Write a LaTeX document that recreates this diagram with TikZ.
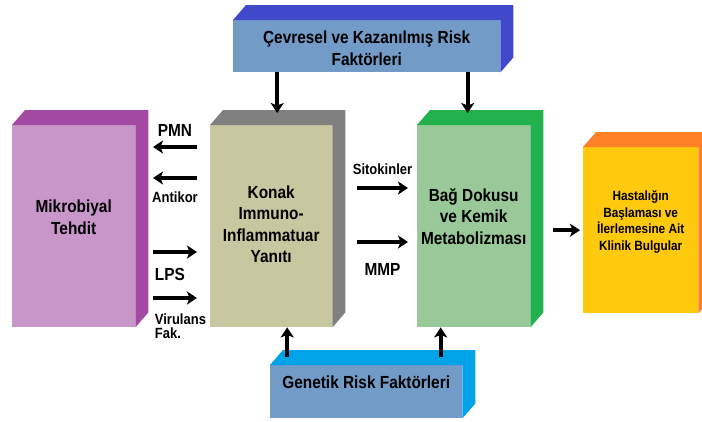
\documentclass[tikz,border=0pt]{standalone}
\usepackage{fontspec}
\setmainfont[FakeStretch=0.88]{Liberation Sans}
\usetikzlibrary{arrows.meta,calc}

\definecolor{cevreOn}{RGB}{115,155,200}
\definecolor{cevreYan}{RGB}{64,72,204}
\definecolor{genOn}{RGB}{115,155,200}
\definecolor{genYan}{RGB}{0,162,232}
\definecolor{mikroOn}{RGB}{200,150,200}
\definecolor{mikroYan}{RGB}{163,73,164}
\definecolor{konakOn}{RGB}{200,200,160}
\definecolor{konakYan}{RGB}{128,128,128}
\definecolor{bagOn}{RGB}{153,200,153}
\definecolor{bagYan}{RGB}{34,177,76}
\definecolor{hastaOn}{RGB}{255,201,14}
\definecolor{hastaYan}{RGB}{255,127,39}

\tikzset{
  onyuz/.style={fill=#1,inner sep=0pt,anchor=north west},
  metin/.style={font=\bfseries\fontsize{17.5}{21.5}\selectfont,align=center,inner sep=0pt},
  etiket/.style={font=\bfseries\fontsize{17.5}{19}\selectfont,inner sep=0pt},
  ketiket/.style={font=\bfseries\fontsize{14.8}{14}\selectfont,inner sep=0pt,align=left},
  oka/.style={-{Stealth[length=10pt,width=13pt,inset=2.5pt]},line width=3.8pt}
}

\begin{document}
\begin{tikzpicture}[x=1pt,y=-1pt]
\useasboundingbox (0,0) rectangle (702,421);
% kutularin on yuzleri
\node[onyuz=cevreOn,minimum width=267,minimum height=52] (cevre) at (233,20) {};
\node[onyuz=mikroOn,minimum width=123,minimum height=202] (mikro) at (12,125) {};
\node[onyuz=konakOn,minimum width=122,minimum height=202] (konak) at (210,125) {};
\node[onyuz=bagOn,minimum width=113,minimum height=202] (bag) at (417,125) {};
\node[onyuz=hastaOn,minimum width=115,minimum height=166] (hasta) at (583,147) {};
\node[onyuz=genOn,minimum width=192,minimum height=53] (genetik) at (270,365) {};
% ust ve yan yuzler
\foreach \n/\c in {cevre/cevreYan,mikro/mikroYan,konak/konakYan,bag/bagYan,hasta/hastaYan,genetik/genYan}
  \fill[\c] (\n.north west) -- ++(13,-15) -- ($(\n.north east)+(13,-15)$)
    -- ($(\n.south east)+(13,-15)$) -- (\n.south east) -- (\n.north east) -- cycle;
% yazilar
\node[metin] (cevreYazi) at ($(cevre.center)+(0,2)$) {Çevresel ve Kazanılmış Risk\\Faktörleri};
\node[metin] (mikroYazi) at ($(mikro.center)+(0,-9)$) {Mikrobiyal\\Tehdit};
\node[metin] (konakYazi) at ($(konak.center)+(0,-2)$) {Konak\\Immuno-\\Inflammatuar\\Yanıtı};
\node[metin] (bagYazi) at ($(bag.center)+(0,-10)$) {Bağ Dokusu\\ve Kemik\\Metabolizması};
\node[metin,font=\bfseries\fontsize{13.4}{16.5}\selectfont] (hastaYazi) at ($(hasta.center)+(0,-8)$)
  {Hastalığın\\Başlaması ve\\İlerlemesine Ait\\Klinik Bulgular};
\node[metin] (genYazi) at ($(genetik.center)+(0,-9)$) {Genetik Risk Faktörleri};
% oklar
\draw[oka] ($(konak.north west)+(-13,22)$) -- ++(-44,0) node[midway,above=8.4pt,etiket] (pmn) {PMN};
\draw[oka] ($(konak.north west)+(-13,53)$) -- ++(-44,0) node[midway,below=12pt,ketiket] (antikor) {Antikor};
\draw[oka] ($(konak.north west)+(-57,127)$) -- ++(44,0)
  node[at start,anchor=north west,yshift=-14.7pt,etiket] (lps) {LPS};
\draw[oka] ($(konak.north west)+(-57,173)$) -- ++(44,0)
  node[at start,anchor=north west,yshift=-13.7pt,ketiket] (virulans) {Virulans\\Fak.};
\draw[oka] ($(bag.north west)+(-60,63)$) -- ++(51,0) node[midway,above=11pt,ketiket] (sitokin) {Sitokinler};
\draw[oka] ($(bag.north west)+(-60,117)$) -- ++(51,0) node[midway,below=19.5pt,etiket] (mmp) {MMP};
\draw[oka] ($(hasta.west)+(-30,0)$) -- ($(hasta.west)+(-3,0)$);
\draw[oka] ($(cevre.south -| konak.north)+(6,0)$) -- ($(konak.north)+(6,-12)$);
\draw[oka] ($(cevre.south -| bag.north)+(-6,0)$) -- ($(bag.north)+(-6,-12)$);
\draw[oka] ($(genetik.north -| konak.south)+(16,-8)$) -- ($(konak.south)+(16,0)$);
\draw[oka] ($(genetik.north -| bag.south)+(-33,-8)$) -- ($(bag.south)+(-33,0)$);
\end{tikzpicture}
\end{document}
